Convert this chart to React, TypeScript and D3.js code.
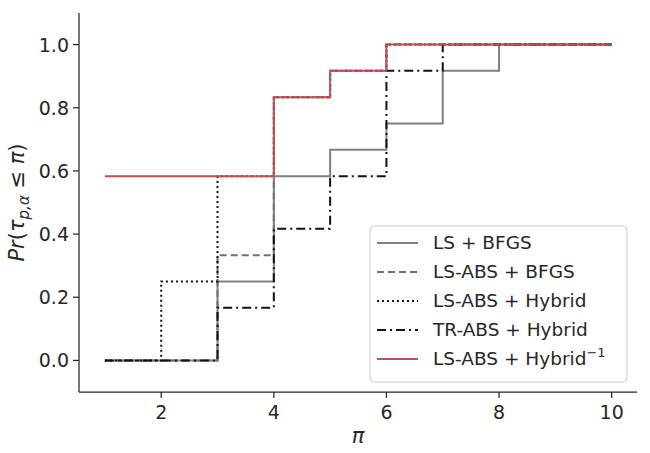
import React from 'react';
import * as d3 from 'd3';

const breaks = [1, 2, 3, 4, 5, 6, 7, 8, 10];
const lsBfgs = [0, 0, 0.25, 0.583, 0.667, 0.75, 0.917, 1.0, 1.0];
const lsAbsBfgs = [0, 0, 0.333, 0.833, 0.917, 1.0, 1.0, 1.0, 1.0];
const lsAbsHybrid = [0, 0.25, 0.583, 0.833, 0.917, 1.0, 1.0, 1.0, 1.0];
const trAbsHybrid = [0, 0, 0.167, 0.417, 0.583, 0.917, 1.0, 1.0, 1.0];
const lsAbsHybridInv = [0.583, 0.583, 0.583, 0.833, 0.917, 1.0, 1.0, 1.0, 1.0];

const xTicks = [2, 4, 6, 8, 10];
const yTicks = [0, 0.2, 0.4, 0.6, 0.8, 1.0];

const series = [
  { name: 'LS + BFGS', values: lsBfgs, color: '#808080', dash: '' },
  { name: 'LS-ABS + BFGS', values: lsAbsBfgs, color: '#707070', dash: '7,4' },
  { name: 'LS-ABS + Hybrid', values: lsAbsHybrid, color: '#111', dash: '2,3' },
  { name: 'TR-ABS + Hybrid', values: trAbsHybrid, color: '#111', dash: '9,4,2,4' },
  { name: 'LS-ABS + Hybrid', sup: '−1', values: lsAbsHybridInv, color: '#c44e52', dash: '' },
];

export default function App() {
  const left = 79, right = 637, top = 13, bottom = 392;
  const x = d3.scaleLinear().domain([0.54, 10.45]).range([left, right]);
  const y = d3.scaleLinear().domain([-0.1, 1.1]).range([bottom, top]);
  const line = d3.line<[number, number]>().x(d => x(d[0])).y(d => y(d[1])).curve(d3.curveStepAfter);
  const font = 'DejaVu Sans, sans-serif';
  return (
    <svg width={650} height={453} style={{ position: 'absolute', left: 0, top: 0 }} fontFamily={font}>
      <rect width={650} height={453} fill="#fff" />
      {series.map((s, i) => (
        <path key={i} d={line(breaks.map((b, j) => [b, s.values[j]] as [number, number]))!}
          fill="none" stroke={s.color} strokeWidth={2} strokeDasharray={s.dash} />
      ))}
      <line x1={left} x2={left} y1={top} y2={bottom} stroke="#262626" strokeWidth={1.25} />
      <line x1={left} x2={right} y1={bottom} y2={bottom} stroke="#262626" strokeWidth={1.25} />
      {xTicks.map(t => (
        <g key={t}>
          <line x1={x(t)} x2={x(t)} y1={bottom} y2={bottom + 6} stroke="#262626" strokeWidth={1.25} />
          <text x={x(t)} y={bottom + 27} textAnchor="middle" fontSize={19} fill="#262626">{t}</text>
        </g>
      ))}
      {yTicks.map(t => (
        <g key={t}>
          <line x1={left - 6} x2={left} y1={y(t)} y2={y(t)} stroke="#262626" strokeWidth={1.25} />
          <text x={left - 10} y={y(t) + 7} textAnchor="end" fontSize={19} fill="#262626">{t.toFixed(1)}</text>
        </g>
      ))}
      <text x={(left + right) / 2} y={443} textAnchor="middle" fontSize={21} fontStyle="italic" fill="#262626">π</text>
      <text transform={`translate(24,${(top + bottom) / 2}) rotate(-90)`} textAnchor="middle" fontSize={21} fill="#262626">
        <tspan fontStyle="italic">Pr</tspan>(<tspan fontStyle="italic">τ</tspan>
        <tspan fontSize={15} dy={5} fontStyle="italic">p,α</tspan>
        <tspan dy={-5}> ≤ </tspan><tspan fontStyle="italic">π</tspan>)
      </text>
      <rect x={370} y={226} width={257} height={156} rx={4} fill="#fff" fillOpacity={0.8} stroke="#ccc" />
      {series.map((s, i) => (
        <g key={i} transform={`translate(0,${243 + i * 29})`}>
          <line x1={377} x2={418} y1={0} y2={0} stroke={s.color} strokeWidth={2} strokeDasharray={s.dash} />
          <text x={433} y={6} fontSize={18.5} fill="#262626">
            {s.name}{s.sup && <tspan fontSize={13} dy={-8}>{s.sup}</tspan>}
          </text>
        </g>
      ))}
    </svg>
  );
}
